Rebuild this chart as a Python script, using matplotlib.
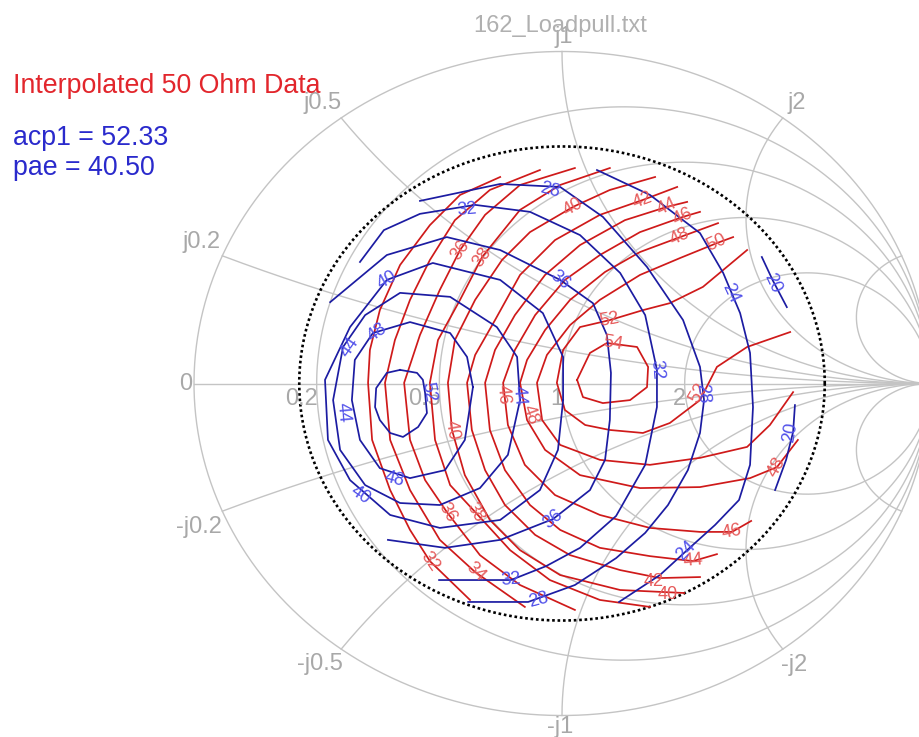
import numpy as np
import matplotlib
matplotlib.use("Agg")
import matplotlib.pyplot as plt

plt.rcParams['font.family'] = ['Liberation Sans', 'DejaVu Sans']

# smith chart grid values (normalised r and x)
r_circles = [0.2, 0.5, 1, 2]
x_arcs = [0.2, 0.5, 1, 2, 5]
r_ticks = [0, 0.2, 0.5, 1, 2]
r_tick_text = ['0', '0.2', '0.5', '1', '2']
x_ticks = [0.2, 0.5, 1, 2, -0.2, -0.5, -1, -2]
x_tick_text = ['j0.2', 'j0.5', 'j1', 'j2', '-j0.2', '-j0.5', '-j1', '-j2']
vswr_gamma = 0.714   # dotted boundary circle, |gamma|

# acp1 contours (red), points are gamma (re, im)
acp_levels = [54, 52, 50, 48, 46, 44, 42, 40, 38, 36, 34, 32]
acp_54 = [(0.041, 0.011), (0.076, 0.092), (0.122, 0.122), (0.204, 0.110), (0.234, 0.050), (0.231, -0.011),
          (0.185, -0.050), (0.111, -0.059), (0.057, -0.041), (0.041, 0.011)]
acp_52 = [(0.503, 0.402), (0.383, 0.291), (0.293, 0.242), (0.220, 0.221), (0.130, 0.191), (0.049, 0.170),
          (0.003, 0.101), (-0.014, 0.002), (0.008, -0.080), (0.063, -0.125), (0.130, -0.140), (0.220, -0.149),
          (0.293, -0.119), (0.375, -0.050), (0.421, 0.050), (0.503, 0.110), (0.620, 0.155)]
acp_50 = [(0.465, 0.441), (0.421, 0.423), (0.321, 0.378), (0.212, 0.327), (0.103, 0.252), (0.022, 0.176),
          (-0.041, 0.086), (-0.068, 0.002), (-0.054, -0.110), (-0.005, -0.185), (0.103, -0.230), (0.239, -0.245),
          (0.375, -0.224), (0.503, -0.191), (0.565, -0.125), (0.628, -0.026)]
acp_48 = [(0.424, 0.483), (0.321, 0.441), (0.212, 0.396), (0.117, 0.336), (0.022, 0.252), (-0.046, 0.161),
          (-0.095, 0.071), (-0.114, 0.002), (-0.095, -0.110), (-0.046, -0.200), (0.049, -0.276), (0.212, -0.315),
          (0.375, -0.312), (0.511, -0.285), (0.584, -0.252), (0.641, -0.170)]
acp_46 = [(0.375, 0.517), (0.329, 0.502), (0.212, 0.456), (0.103, 0.387), (0.008, 0.312), (-0.073, 0.206),
          (-0.128, 0.101), (-0.160, 0.002), (-0.147, -0.125), (-0.101, -0.245), (-0.019, -0.336), (0.103, -0.396),
          (0.239, -0.435), (0.375, -0.447), (0.462, -0.447), (0.514, -0.414)]
acp_44 = [(0.340, 0.547), (0.285, 0.532), (0.171, 0.492), (0.049, 0.417), (-0.046, 0.327), (-0.128, 0.206),
          (-0.182, 0.101), (-0.209, 0.002), (-0.196, -0.140), (-0.155, -0.261), (-0.087, -0.366), (-0.005, -0.441),
          (0.103, -0.495), (0.239, -0.520), (0.356, -0.535), (0.421, -0.514)]
acp_42 = [(0.313, 0.592), (0.220, 0.553), (0.103, 0.508), (-0.019, 0.432), (-0.114, 0.327), (-0.182, 0.191),
          (-0.236, 0.086), (-0.258, 0.002), (-0.245, -0.140), (-0.209, -0.261), (-0.155, -0.366), (-0.073, -0.456),
          (0.022, -0.517), (0.158, -0.562), (0.266, -0.586), (0.375, -0.583)]
acp_40 = [(0.253, 0.622), (0.130, 0.583), (0.030, 0.532), (-0.087, 0.456), (-0.163, 0.372), (-0.236, 0.252),
          (-0.291, 0.131), (-0.310, 0.002), (-0.299, -0.140), (-0.264, -0.276), (-0.196, -0.411), (-0.114, -0.502),
          (-0.005, -0.577), (0.158, -0.622), (0.332, -0.631)]
acp_38 = [(0.130, 0.649), (-0.005, 0.598), (-0.114, 0.523), (-0.217, 0.381), (-0.277, 0.252), (-0.337, 0.131),
          (-0.359, 0.002), (-0.345, -0.170), (-0.304, -0.306), (-0.236, -0.387), (-0.141, -0.502), (-0.033, -0.592),
          (0.103, -0.652), (0.239, -0.673)]
acp_36 = [(0.035, 0.649), (-0.114, 0.598), (-0.209, 0.508), (-0.277, 0.402), (-0.332, 0.282), (-0.386, 0.146),
          (-0.429, 0.002), (-0.413, -0.170), (-0.372, -0.291), (-0.313, -0.387), (-0.223, -0.517), (-0.114, -0.607),
          (0.035, -0.682)]
acp_34 = [(-0.060, 0.643), (-0.196, 0.583), (-0.291, 0.492), (-0.359, 0.372), (-0.413, 0.252), (-0.454, 0.131),
          (-0.481, 0.002), (-0.467, -0.170), (-0.413, -0.321), (-0.332, -0.471), (-0.236, -0.568), (-0.101, -0.673)]
acp_32 = [(-0.168, 0.622), (-0.277, 0.568), (-0.359, 0.477), (-0.440, 0.357), (-0.495, 0.221), (-0.522, 0.101),
          (-0.527, 0.002), (-0.516, -0.170), (-0.467, -0.321), (-0.413, -0.441), (-0.359, -0.535), (-0.250, -0.652)]

# pae contours (blue)
pae_levels = [52, 48, 44, 40, 36, 32, 28, 24, 20, 20]
pae_52 = [(-0.440, 0.041), (-0.394, 0.032), (-0.378, 0.011), (-0.372, -0.029), (-0.367, -0.089), (-0.391, -0.131),
          (-0.432, -0.161), (-0.467, -0.149), (-0.495, -0.110), (-0.508, -0.071), (-0.505, -0.014), (-0.476, 0.032),
          (-0.440, 0.041)]
pae_48 = [(-0.242, -0.011), (-0.258, 0.080), (-0.304, 0.152), (-0.413, 0.185), (-0.514, 0.152), (-0.563, 0.071),
          (-0.571, -0.050), (-0.549, -0.170), (-0.495, -0.255), (-0.413, -0.285), (-0.318, -0.261), (-0.264, -0.170),
          (-0.242, -0.011)]
pae_44 = [(-0.114, -0.050), (-0.122, 0.080), (-0.177, 0.170), (-0.304, 0.261), (-0.440, 0.273), (-0.535, 0.206),
          (-0.595, 0.110), (-0.622, -0.050), (-0.603, -0.200), (-0.535, -0.306), (-0.440, -0.360), (-0.332, -0.366),
          (-0.223, -0.315), (-0.147, -0.215), (-0.114, -0.050)]
pae_40 = [(0.003, -0.050), (0.003, 0.080), (-0.052, 0.212), (-0.168, 0.312), (-0.351, 0.363), (-0.476, 0.312),
          (-0.576, 0.170), (-0.644, 0.011), (-0.636, -0.170), (-0.576, -0.291), (-0.467, -0.396), (-0.332, -0.435),
          (-0.168, -0.411), (-0.060, -0.321), (-0.011, -0.200), (0.003, -0.050)]
pae_36 = [(-0.630, 0.245), (-0.476, 0.387), (-0.313, 0.441), (-0.168, 0.402), (-0.005, 0.312), (0.084, 0.242),
          (0.122, 0.146), (0.133, 0.032), (0.130, -0.110), (0.117, -0.230), (0.076, -0.321), (-0.024, -0.408),
          (-0.168, -0.471), (-0.318, -0.495), (-0.473, -0.471)]
pae_32 = [(-0.549, 0.366), (-0.484, 0.462), (-0.386, 0.511), (-0.236, 0.538), (-0.087, 0.517), (0.049, 0.447),
          (0.158, 0.333), (0.226, 0.206), (0.258, 0.041), (0.258, -0.071), (0.226, -0.245), (0.147, -0.399),
          (0.049, -0.495), (-0.043, -0.550), (-0.139, -0.592), (-0.334, -0.592)]
pae_28 = [(-0.386, 0.550), (-0.168, 0.601), (-0.005, 0.592), (0.111, 0.502), (0.231, 0.351), (0.329, 0.191),
          (0.375, 0.050), (0.386, -0.050), (0.375, -0.149), (0.342, -0.261), (0.288, -0.366), (0.226, -0.450),
          (0.147, -0.526), (0.035, -0.607), (-0.092, -0.658), (-0.255, -0.658)]
pae_24 = [(0.095, 0.643), (0.239, 0.568), (0.375, 0.453), (0.438, 0.333), (0.484, 0.212), (0.511, 0.092),
          (0.519, -0.071), (0.511, -0.245), (0.481, -0.351), (0.416, -0.426), (0.337, -0.505), (0.266, -0.577),
          (0.155, -0.658)]
pae_20a = [(0.543, 0.381), (0.573, 0.310), (0.611, 0.230)]
pae_20b = [(0.633, -0.065), (0.628, -0.146), (0.609, -0.230), (0.579, -0.321)]

acp_lines = [acp_54, acp_52, acp_50, acp_48, acp_46, acp_44, acp_42, acp_40, acp_38, acp_36, acp_34, acp_32]
pae_lines = [pae_52, pae_48, pae_44, pae_40, pae_36, pae_32, pae_28, pae_24, pae_20a, pae_20b]

# where the contour values are written: (text, re, im, angle)
acp_tags = [('54', 0.139, 0.122, -10), ('52', 0.130, 0.191, 10), ('52', 0.370, -0.029, 60),
            ('50', 0.421, 0.423, 25), ('48', 0.321, 0.441, 25), ('48', 0.584, -0.252, 60),
            ('46', 0.329, 0.502, 25), ('46', 0.462, -0.447, 10), ('44', 0.285, 0.532, 25),
            ('44', 0.356, -0.535, 5), ('42', 0.220, 0.553, 20), ('42', 0.250, -0.595, 0),
            ('40', 0.030, 0.532, 30), ('40', 0.288, -0.637, 0), ('40', -0.299, -0.140, -80),
            ('38', -0.217, 0.381, 55), ('38', -0.236, -0.387, -60), ('36', -0.277, 0.402, 55),
            ('36', -0.313, -0.387, -60), ('34', -0.236, -0.568, -45), ('32', -0.359, -0.535, -55),
            ('46', -0.160, -0.035, -85), ('48', -0.087, -0.095, -70)]
pae_tags = [('52', -0.364, -0.026, -80), ('48', -0.503, 0.152, 35), ('48', -0.454, -0.288, -15),
            ('44', -0.576, 0.110, 55), ('44', -0.595, -0.089, -85), ('44', -0.117, -0.035, -85),
            ('40', -0.476, 0.312, 30), ('40', -0.549, -0.336, -35), ('36', -0.005, 0.312, -40),
            ('36', -0.024, -0.408, 40), ('32', -0.258, 0.523, 5), ('32', 0.258, 0.041, -85),
            ('32', -0.139, -0.592, 5), ('28', -0.033, 0.583, -15), ('28', 0.383, -0.029, -85),
            ('28', -0.063, -0.652, 15), ('24', 0.457, 0.273, -65), ('24', 0.337, -0.505, 45),
            ('20', 0.573, 0.303, -65), ('20', 0.622, -0.146, 80)]

grid_col = '#c4c4c4'
label_col = '#a8a8a8'
red_line, red_text = '#cf1a1a', '#e65a5a'
blue_line, blue_text = '#1c1ca2', '#5050ea'

fig = plt.figure(figsize=(9.2, 7.37), dpi=100)
ax = fig.add_axes([0, 0, 1, 1])
ax.set_xlim(-562 / 368, 358 / 368)
ax.set_ylim(-353.5 / 332, 383.5 / 332)
ax.axis('off')

# grid
t = np.linspace(0, 2 * np.pi, 721)
ax.plot(np.cos(t), np.sin(t), color=grid_col, lw=1.0, zorder=1)
ax.plot([-1, 1], [0, 0], color=grid_col, lw=1.0, zorder=1)
for r in r_circles:
    c, rad = r / (1 + r), 1 / (1 + r)
    ax.plot(c + rad * np.cos(t), rad * np.sin(t), color=grid_col, lw=1.0, zorder=1)
for x in x_arcs:
    phi0 = np.arctan2(x * x - 1, -2 * x) % (2 * np.pi)
    phi = np.linspace(phi0, 1.5 * np.pi, 300)
    xs = 1 + np.cos(phi) / x
    ys = 1 / x + np.sin(phi) / x
    ax.plot(xs, ys, color=grid_col, lw=1.0, zorder=1)
    ax.plot(xs, -ys, color=grid_col, lw=1.0, zorder=1)

# grid labels (offsets in pixels from the chart point)
for r, txt in zip(r_ticks, r_tick_text):
    g = (r - 1) / (r + 1)
    if r == 0:
        ax.annotate(txt, (g, 0), xytext=(-1.5, 0), textcoords='offset points',
                    ha='right', va='center', fontsize=17, color=label_col)
    else:
        ax.annotate(txt, (g, 0), xytext=(1, -3), textcoords='offset points',
                    ha='right', va='top', fontsize=17, color=label_col)
x_offsets = [(-20.5, 13.5), (-18.5, 14.5), (2, 14), (14, 14.5),
             (-23.5, -15.5), (-21, -15), (-1.5, -11), (11.5, -16)]
for x, txt, off in zip(x_ticks, x_tick_text, x_offsets):
    gx = (x * x - 1) / (x * x + 1)
    gy = 2 * x / (x * x + 1)
    ax.annotate(txt, (gx, gy), xytext=(off[0] * 0.72, off[1] * 0.72), textcoords='offset points',
                ha='center', va='center', fontsize=17, color=label_col)

# dotted boundary
ax.plot(vswr_gamma * np.cos(t), vswr_gamma * np.sin(t), color='black', lw=1.9,
        ls=(0, (1, 1.05)), zorder=2)

# contours
for pts in acp_lines:
    a = np.array(pts)
    ax.plot(a[:, 0], a[:, 1], color=red_line, lw=1.25, zorder=3)
for pts in pae_lines:
    a = np.array(pts)
    ax.plot(a[:, 0], a[:, 1], color=blue_line, lw=1.25, zorder=3)

for txt, gx, gy, ang in acp_tags:
    ax.text(gx, gy, txt, color=red_text, fontsize=13, rotation=ang,
            ha='center', va='center', rotation_mode='anchor', zorder=4)
for txt, gx, gy, ang in pae_tags:
    ax.text(gx, gy, txt, color=blue_text, fontsize=13, rotation=ang,
            ha='center', va='center', rotation_mode='anchor', zorder=4)

# header texts
fig.text(560 / 920, 1 - 26 / 737, '162_Loadpull.txt', ha='center', va='center',
         fontsize=17, color='#b0b0b0')
fig.text(13 / 920, 1 - 93 / 737, 'Interpolated 50 Ohm Data', ha='left', va='baseline',
         fontsize=19.3, color='#e2262c')
fig.text(13 / 920, 1 - 145 / 737, 'acp1 = 52.33', ha='left', va='baseline',
         fontsize=19.3, color='#2a2acc')
fig.text(13 / 920, 1 - 175 / 737, 'pae = 40.50', ha='left', va='baseline',
         fontsize=19.3, color='#2a2acc')

fig.savefig('out.png', dpi=100, facecolor='white')
